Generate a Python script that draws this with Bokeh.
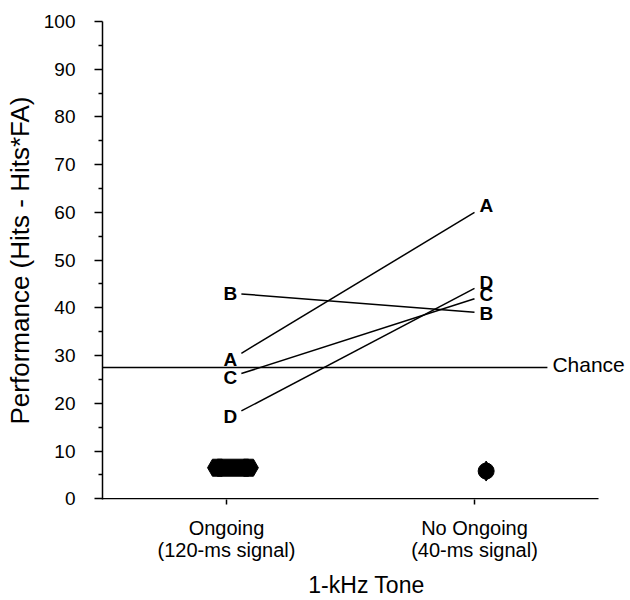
import numpy as np
from bokeh.plotting import figure
from bokeh.models import Range1d, FixedTicker, SingleIntervalTicker, Label
from bokeh.core.properties import value
from bokeh.embed import file_html
from bokeh.resources import INLINE

# ---- data ----
subjects = ["A", "B", "C", "D"]
condition_labels = ["Ongoing\n(120-ms signal)", "No Ongoing\n(40-ms signal)"]
ongoing = [29.1, 43.1, 25.5, 17.2]        # 120-ms signal, ongoing
no_ongoing = [61.5, 38.9, 42.7, 45.4]     # 40-ms signal, no ongoing
chance = 27.5
floor_values = [6.5, 5.8]                 # markers near the floor
y_tick_values = list(range(0, 101, 10))

FONT = value("Liberation Sans")

X_END = 0.5 + 528 / 248.0   # frame runs to the right canvas edge (room for "Chance")

p = figure(width=630, height=600, output_backend="svg", toolbar_location=None,
           x_range=Range1d(0.5, X_END), y_range=Range1d(-0.16, 100),
           min_border_left=102, min_border_right=0, min_border_top=21,
           min_border_bottom=101)
p.outline_line_color = None
p.xgrid.visible = False
p.ygrid.visible = False
p.background_fill_color = "white"
p.border_fill_color = "white"

# y axis
ya = p.yaxis[0]
ya.ticker = FixedTicker(ticks=y_tick_values,
                        minor_ticks=[v + 5 for v in y_tick_values[:-1]])
ya.axis_label = "Performance (Hits - Hits*FA)"
ya.axis_label_text_font = "Liberation Sans"
ya.axis_label_text_font_style = "normal"
ya.axis_label_text_font_size = "26px"
ya.axis_label_text_color = "black"
ya.axis_label_standoff = 6
ya.major_label_text_font = "Liberation Sans"
ya.major_label_text_font_size = "19px"
ya.major_label_text_color = "black"
ya.major_label_standoff = 19
ya.major_tick_out = 8
ya.major_tick_in = 0
ya.minor_tick_out = 4
ya.minor_tick_in = 0
ya.axis_line_width = 1.5
ya.major_tick_line_width = 1.5
ya.minor_tick_line_width = 1.5
ya.axis_line_color = "black"
ya.major_tick_line_color = "black"
ya.minor_tick_line_color = "black"

# x axis (line drawn as a glyph so it stops at x = 2.5)
xa = p.xaxis[0]
xa.ticker = FixedTicker(ticks=[1, 2], minor_ticks=[])
xa.major_label_overrides = {1: condition_labels[0], 2: condition_labels[1]}
xa.axis_label = "1-kHz Tone"
xa.axis_label_text_font = "Liberation Sans"
xa.axis_label_text_font_style = "normal"
xa.axis_label_text_font_size = "23px"
xa.axis_label_text_color = "black"
xa.axis_label_standoff = 8
xa.major_label_text_font = "Liberation Sans"
xa.major_label_text_font_size = "20px"
xa.major_label_text_color = "black"
xa.major_label_text_line_height = 1.0
xa.major_label_standoff = 12
xa.major_tick_out = 5
xa.major_tick_in = 0
xa.minor_tick_out = 0
xa.minor_tick_in = 0
xa.axis_line_color = None
xa.major_tick_line_width = 1.5
xa.major_tick_line_color = "black"
p.segment(x0=[0.5], y0=[0], x1=[2.5], y1=[0], line_color="black", line_width=1.5)

# subject lines (trimmed between label centres)
x_left_lab, x_right_lab = 1.016, 2.048
x_line0, x_line1 = 1.06, 2.0
t0 = (x_line0 - x_left_lab) / (x_right_lab - x_left_lab)
t1 = (x_line1 - x_left_lab) / (x_right_lab - x_left_lab)
y0 = [a + (b - a) * t0 for a, b in zip(ongoing, no_ongoing)]
y1 = [a + (b - a) * t1 for a, b in zip(ongoing, no_ongoing)]
p.segment(x0=[x_line0] * 4, y0=y0, x1=[x_line1] * 4, y1=y1,
          line_color="black", line_width=1.5)

# subject letters
for xs, ys in ((x_left_lab, ongoing), (x_right_lab, no_ongoing)):
    p.text(x=[xs] * 4, y=ys, text=subjects, text_font=FONT,
           text_font_style="bold", text_font_size="19px", text_align="center",
           text_baseline="middle", text_color="black")

# chance line
x_chance_end = 2.294
p.segment(x0=[0.5], y0=[chance], x1=[x_chance_end], y1=[chance],
          line_color="black", line_width=1.5)
p.text(x=[x_chance_end], y=[chance], text=["Chance"], x_offset=5, y_offset=-3,
       text_font=FONT, text_font_size="21px", text_baseline="middle",
       text_align="left", text_color="black")

# floor markers
left_c, left_half = 1.026, 0.063
p.rect(x=[left_c], y=[floor_values[0]], width=2 * left_half, height=17,
       height_units="screen", fill_color="black", line_color="black")
p.scatter(x=[left_c - left_half, left_c + left_half], y=[floor_values[0]] * 2,
          marker="hex", size=19.6, fill_color="black", line_color="black")
p.scatter(x=[2.047], y=[floor_values[1]], marker="circle", size=16,
          fill_color="black", line_color="black")
p.scatter(x=[2.047], y=[floor_values[1]], marker="diamond", size=20,
          fill_color="black", line_color="black")

open("out.html", "w").write(file_html(p, INLINE))
